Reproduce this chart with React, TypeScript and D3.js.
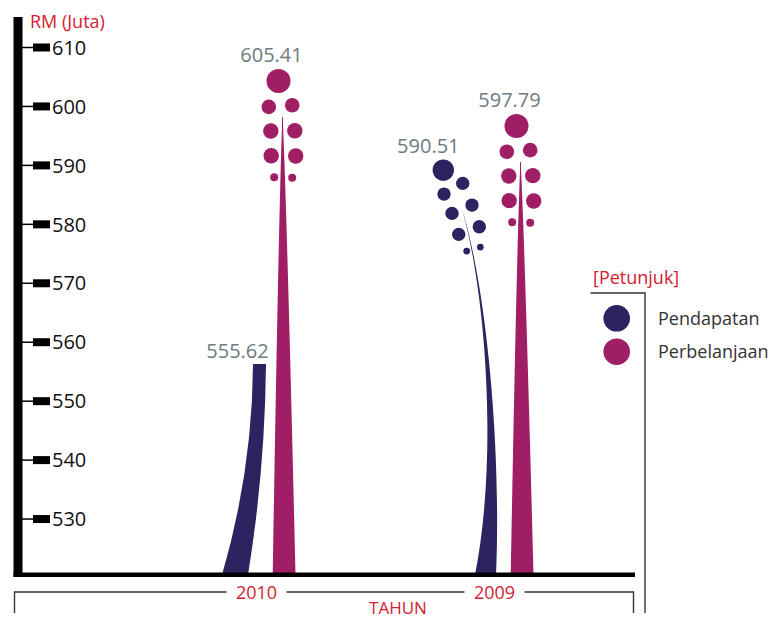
import React from "react";
import * as d3 from "d3";

// ---- data ----
const years = ["2010", "2009"];
const seriesNames = ["Pendapatan", "Perbelanjaan"];
const pendapatan = [555.62, 590.51];
const perbelanjaan = [605.41, 597.79];
const yTicks = [530, 540, 550, 560, 570, 580, 590, 600, 610];

// ---- style ----
const NAVY = "#2b2460";
const MAGENTA = "#a01e63";
const RED = "#d3212f";
const GRAY = "#6e7a80";
const FONT = "'Open Sans', 'Noto Sans', sans-serif";
const pendapatanForm = ["bar", "flower"];

const W = 772;
const H = 618;
const BASE_Y = 575;

const navyDots: [number, number, number][] = [
  [19.4, 13.3, 6.7], [0.7, 24, 6.7], [28.7, 35, 6.7], [8.7, 43.3, 6.7],
  [36, 56.6, 6.7], [15.4, 64.3, 6.7], [23.4, 81, 3.4], [37, 77, 3.4],
];
const magentaDots: [number, number, number][] = [
  [-9.7, 25.8, 7.3], [13.7, 24.2, 7.3], [-7.7, 50, 7.7], [16.3, 49.7, 7.7],
  [-7.3, 74.7, 7.7], [17.2, 75, 7.7], [-4.3, 96.3, 4], [13.7, 96.7, 4],
];

export default function App() {
  const y = d3.scaleLinear().domain([520, 610]).range([578, 47.5]);
  const x = d3.scalePoint<string>().domain(years).range([256.5, 494.5]);

  const spikePath = (tipX: number, tipY: number, baseC: number, baseW: number) => {
    const n = 40;
    const left: [number, number][] = [];
    const right: [number, number][] = [];
    for (let i = 0; i <= n; i++) {
      const f = i / n;
      const yy = tipY + f * (BASE_Y - tipY);
      const c = tipX + f * (baseC - tipX);
      const w = Math.max(0.9, baseW * Math.pow(f, 0.8));
      left.push([c - w / 2, yy]);
      right.push([c + w / 2, yy]);
    }
    const pts = left.concat(right.reverse());
    return d3.line()(pts) + "Z";
  };

  const marks: React.ReactNode[] = [];

  years.forEach((yr, i) => {
    const xc = x(yr) as number;

    // Pendapatan
    const vP = pendapatan[i];
    if (pendapatanForm[i] === "bar") {
      const top = y(vP) - 4;
      const p = d3.path();
      p.moveTo(xc - 34.5, BASE_Y);
      p.quadraticCurveTo(xc - 4, top + 106, xc - 3.5, top);
      p.lineTo(xc + 9.5, top);
      p.quadraticCurveTo(xc + 8.5, top + 106, xc - 8.5, BASE_Y);
      p.closePath();
      marks.push(<path key={"pb" + i} d={p.toString()} fill={NAVY} />);
      marks.push(
        <text key={"pl" + i} x={xc - 19} y={top - 6} textAnchor="middle" fontSize={20} fill={GRAY} fontFamily={FONT}>
          {vP.toFixed(2)}
        </text>
      );
    } else {
      const cx = xc - 51.2;
      const cy = y(vP) + 7.7;
      const tx = cx + 17.4;
      const ty = cy + 35;
      const Hh = BASE_Y - ty;
      const xb = xc - 9;
      const p = d3.path();
      p.moveTo(tx, ty);
      p.bezierCurveTo(tx + 24.5, ty + 0.2 * Hh, tx + 41, ty + 0.64 * Hh, xb + 10.5, BASE_Y);
      p.lineTo(xb - 10.5, BASE_Y);
      p.bezierCurveTo(tx + 39, ty + 0.66 * Hh, tx + 23, ty + 0.2 * Hh, tx, ty);
      p.closePath();
      marks.push(<path key={"ps" + i} d={p.toString()} fill={NAVY} />);
      marks.push(<circle key={"pc" + i} cx={cx} cy={cy} r={10.7} fill={NAVY} />);
      navyDots.forEach(([dx, dy, r], k) =>
        marks.push(<circle key={"pd" + i + "-" + k} cx={cx + dx} cy={cy + dy} r={r} fill={NAVY} />)
      );
      marks.push(
        <text key={"pl" + i} x={cx - 15} y={cy - 17} textAnchor="middle" fontSize={20} fill={GRAY} fontFamily={FONT}>
          {vP.toFixed(2)}
        </text>
      );
    }

    // Perbelanjaan
    const vE = perbelanjaan[i];
    const cx = xc + 22;
    const cy = y(vE) + 6.5;
    marks.push(<path key={"es" + i} d={spikePath(cx + 4, cy + 36, cx + 5.6, 22.8)} fill={MAGENTA} />);
    marks.push(<circle key={"ec" + i} cx={cx} cy={cy} r={12} fill={MAGENTA} />);
    magentaDots.forEach(([dx, dy, r], k) =>
      marks.push(<circle key={"ed" + i + "-" + k} cx={cx + dx} cy={cy + dy} r={r} fill={MAGENTA} />)
    );
    marks.push(
      <text key={"el" + i} x={cx - 7} y={cy - 18.6} textAnchor="middle" fontSize={20} fill={GRAY} fontFamily={FONT}>
        {vE.toFixed(2)}
      </text>
    );
  });

  // bottom bracket segments with gaps for labels
  const gapHalf = 30;
  const xs = years.map((yr) => x(yr) as number);
  const bracketY = 592;
  const bracketL = 14.5;
  const bracketR = 633.5;
  const segs: [number, number][] = [];
  let start = bracketL;
  xs.forEach((xv) => {
    segs.push([start, xv - gapHalf]);
    start = xv + gapHalf;
  });
  segs.push([start, bracketR]);

  return (
    <svg width={W} height={H} style={{ position: "absolute", left: 0, top: 0, display: "block", background: "#fff" }}>
      {/* y axis */}
      <rect x={13.5} y={17} width={9} height={560} fill="#000" />
      <text x={30} y={28} fontSize={18} fill={RED} fontFamily={FONT}>RM (Juta)</text>
      {yTicks.map((t) => (
        <g key={t} transform={`translate(0,${y(t)})`}>
          <line x1={22} x2={34} y1={0} y2={0} stroke="#000" strokeWidth={1.5} />
          <rect x={33} y={-4} width={17} height={8} fill="#000" />
          <text x={52} y={7.2} fontSize={20} fill="#111" fontFamily={FONT}>{t}</text>
        </g>
      ))}

      {marks}

      {/* x axis baseline */}
      <rect x={13.5} y={572.5} width={621.5} height={4.5} fill="#000" />

      {/* bracket */}
      {segs.map(([a, b], k) => (
        <line key={"s" + k} x1={a} x2={b} y1={bracketY} y2={bracketY} stroke="#333" strokeWidth={1.4} />
      ))}
      <line x1={bracketL} x2={bracketL} y1={bracketY - 0.7} y2={613} stroke="#333" strokeWidth={1.4} />
      <line x1={bracketR} x2={bracketR} y1={bracketY - 0.7} y2={613} stroke="#333" strokeWidth={1.4} />
      {years.map((yr) => (
        <text key={yr} x={x(yr)} y={598.5} textAnchor="middle" fontSize={18} fill={RED} fontFamily={FONT}>{yr}</text>
      ))}
      <text x={398} y={614} textAnchor="middle" fontSize={17} fill={RED} fontFamily={FONT}>TAHUN</text>

      {/* legend */}
      <text x={593} y={284} fontSize={18} fill={RED} fontFamily={FONT}>[Petunjuk]</text>
      <line x1={590.5} x2={645} y1={293} y2={293} stroke="#333" strokeWidth={1.4} />
      <line x1={645} x2={645} y1={292.3} y2={613} stroke="#333" strokeWidth={1.4} />
      {seriesNames.map((s, k) => (
        <g key={s} transform={`translate(0,${318.3 + k * 33.4})`}>
          <circle cx={616.7} cy={0} r={13.3} fill={k === 0 ? NAVY : MAGENTA} />
          <text x={658} y={6.5} fontSize={18} fill="#333" fontFamily={FONT}>{s}</text>
        </g>
      ))}
    </svg>
  );
}
